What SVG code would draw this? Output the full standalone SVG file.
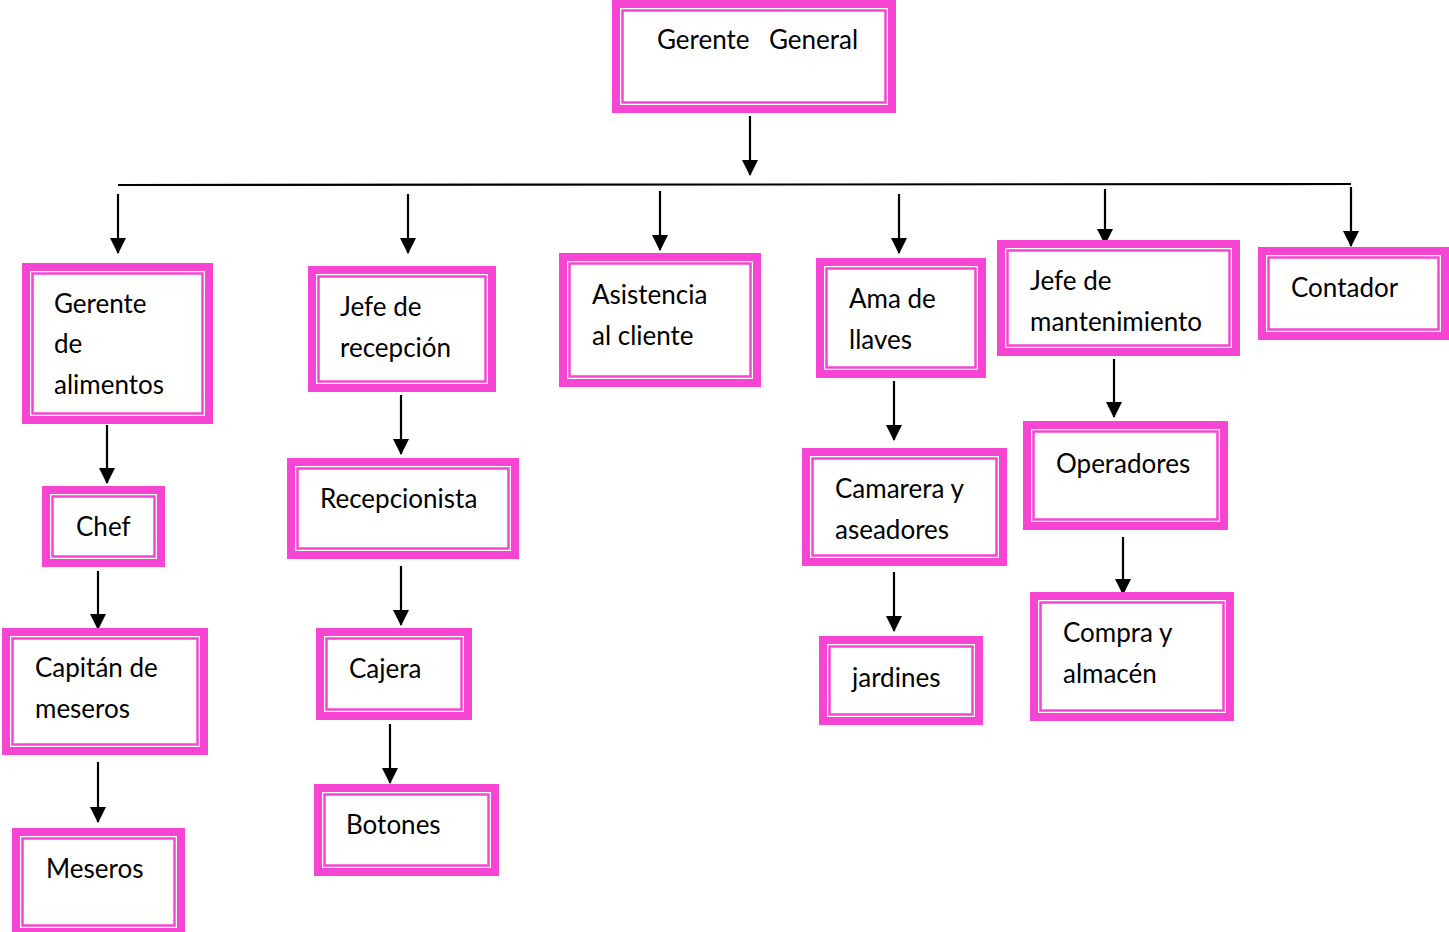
<svg xmlns="http://www.w3.org/2000/svg" width="1449" height="932" viewBox="0 0 1449 932">
<style>
.o{fill:#fff;stroke:#F745D3;stroke-width:8}
.i{fill:none;stroke:#F745D3;stroke-width:2.5}
text{font-family:Lato,"Liberation Sans",sans-serif;font-size:26px;fill:#000}
.c line{stroke:#000;stroke-width:2.2}
</style>
<defs>
<marker id="ah" markerUnits="userSpaceOnUse" markerWidth="16" markerHeight="17" refX="15" refY="8" orient="auto" viewBox="0 0 16 16">
<path d="M0,0 L16,8 L0,16 Z" fill="#000"/>
</marker>
</defs>
<rect width="1449" height="932" fill="#fff"/>
<g id="connectors" class="c">
<line x1="750" y1="116" x2="750" y2="175" marker-end="url(#ah)"/>
<line x1="118" y1="185" x2="1351" y2="184"/>
<line x1="118" y1="194" x2="118" y2="253" marker-end="url(#ah)"/>
<line x1="408" y1="194" x2="408" y2="253" marker-end="url(#ah)"/>
<line x1="660" y1="191" x2="660" y2="250" marker-end="url(#ah)"/>
<line x1="899" y1="194" x2="899" y2="253" marker-end="url(#ah)"/>
<line x1="1105" y1="189" x2="1105" y2="244" marker-end="url(#ah)"/>
<line x1="1351" y1="187" x2="1351" y2="246" marker-end="url(#ah)"/>
<line x1="107" y1="425" x2="107" y2="483" marker-end="url(#ah)"/>
<line x1="98" y1="571" x2="98" y2="629" marker-end="url(#ah)"/>
<line x1="98" y1="762" x2="98" y2="822" marker-end="url(#ah)"/>
<line x1="401" y1="395" x2="401" y2="454" marker-end="url(#ah)"/>
<line x1="401" y1="566" x2="401" y2="625" marker-end="url(#ah)"/>
<line x1="390" y1="724" x2="390" y2="783" marker-end="url(#ah)"/>
<line x1="894" y1="381" x2="894" y2="440" marker-end="url(#ah)"/>
<line x1="894" y1="572" x2="894" y2="631" marker-end="url(#ah)"/>
<line x1="1114" y1="359" x2="1114" y2="417" marker-end="url(#ah)"/>
<line x1="1123" y1="537" x2="1123" y2="594" marker-end="url(#ah)"/>
</g>
<g id="gerente-general">
<rect class="o" x="616" y="4" width="276" height="105"/>
<rect class="i" x="622.5" y="10.5" width="263" height="92"/>
<text x="657" y="49">Gerente</text><text x="769" y="49">General</text>
</g>
<g id="gerente-alimentos">
<rect class="o" x="26" y="267" width="183" height="153"/>
<rect class="i" x="32.5" y="273.5" width="170" height="140"/>
<text x="54" y="313">Gerente</text><text x="54" y="353">de</text><text x="54" y="394">alimentos</text>
</g>
<g id="jefe-recepcion">
<rect class="o" x="312" y="270" width="180" height="118"/>
<rect class="i" x="318.5" y="276.5" width="167" height="105"/>
<text x="340" y="316">Jefe de</text><text x="340" y="357">recepción</text>
</g>
<g id="asistencia">
<rect class="o" x="563" y="257" width="194" height="126"/>
<rect class="i" x="569.5" y="263.5" width="181" height="113"/>
<text x="592" y="304">Asistencia</text><text x="592" y="345">al cliente</text>
</g>
<g id="ama-llaves">
<rect class="o" x="820" y="262" width="162" height="112"/>
<rect class="i" x="826.5" y="268.5" width="149" height="99"/>
<text x="849" y="308">Ama de</text><text x="849" y="349">llaves</text>
</g>
<g id="jefe-mantenimiento">
<rect class="o" x="1001" y="244" width="235" height="108"/>
<rect class="i" x="1007.5" y="250.5" width="222" height="95"/>
<text x="1030" y="290">Jefe de</text><text x="1030" y="331">mantenimiento</text>
</g>
<g id="contador">
<rect class="o" x="1262" y="251" width="183" height="85"/>
<rect class="i" x="1268.5" y="257.5" width="170" height="72"/>
<text x="1291" y="297">Contador</text>
</g>
<g id="chef">
<rect class="o" x="46" y="490" width="115" height="73"/>
<rect class="i" x="52.5" y="496.5" width="102" height="60"/>
<text x="76" y="536">Chef</text>
</g>
<g id="capitan">
<rect class="o" x="6" y="632" width="198" height="119"/>
<rect class="i" x="12.5" y="638.5" width="185" height="106"/>
<text x="35" y="677">Capitán de</text><text x="35" y="718">meseros</text>
</g>
<g id="meseros">
<rect class="o" x="16" y="832" width="165" height="100"/>
<rect class="i" x="22.5" y="838.5" width="152" height="87"/>
<text x="46" y="878">Meseros</text>
</g>
<g id="recepcionista">
<rect class="o" x="291" y="462" width="224" height="93"/>
<rect class="i" x="297.5" y="468.5" width="211" height="80"/>
<text x="320" y="508">Recepcionista</text>
</g>
<g id="cajera">
<rect class="o" x="320" y="632" width="148" height="84"/>
<rect class="i" x="326.5" y="638.5" width="135" height="71"/>
<text x="349" y="678">Cajera</text>
</g>
<g id="botones">
<rect class="o" x="318" y="788" width="177" height="84"/>
<rect class="i" x="324.5" y="794.5" width="164" height="71"/>
<text x="346" y="834">Botones</text>
</g>
<g id="camarera">
<rect class="o" x="806" y="452" width="197" height="110"/>
<rect class="i" x="812.5" y="458.5" width="184" height="97"/>
<text x="835" y="498">Camarera y</text><text x="835" y="539">aseadores</text>
</g>
<g id="jardines">
<rect class="o" x="823" y="640" width="156" height="81"/>
<rect class="i" x="829.5" y="646.5" width="143" height="68"/>
<text x="852" y="687">jardines</text>
</g>
<g id="operadores">
<rect class="o" x="1027" y="425" width="197" height="101"/>
<rect class="i" x="1033.5" y="431.5" width="184" height="88"/>
<text x="1056" y="473">Operadores</text>
</g>
<g id="compra">
<rect class="o" x="1034" y="596" width="196" height="121"/>
<rect class="i" x="1040.5" y="602.5" width="183" height="108"/>
<text x="1063" y="642">Compra y</text><text x="1063" y="683">almacén</text>
</g>
</svg>
